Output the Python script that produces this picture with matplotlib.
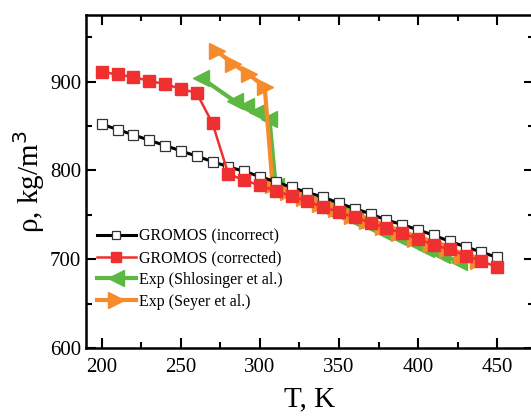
import matplotlib.pyplot as plt
from matplotlib.ticker import MultipleLocator

# GROMOS (incorrect)
t_incorrect = [200, 210, 220, 230, 240, 250, 260, 270, 280, 290, 300, 310, 320,
               330, 340, 350, 360, 370, 380, 390, 400, 410, 420, 430, 440, 450]
rho_incorrect = [852, 846, 840, 834, 828, 822, 816, 810, 804, 799, 793, 787, 781,
                 775, 770, 763, 757, 751, 744, 739, 733, 727, 720, 714, 708, 702]

# GROMOS (corrected)
t_corrected = t_incorrect
rho_corrected = [911, 908, 905, 901, 897, 892, 887, 853, 796, 789, 783, 777, 771,
                 765, 759, 753, 747, 741, 735, 729, 723, 716, 711, 704, 698, 691]

# Exp (Shlosinger et al.)
t_shlos = [263, 284, 291, 298, 306, 310, 318, 326, 334, 342, 351, 360, 369,
           378, 387, 396, 405, 415, 426]
rho_shlos = [904, 878, 872, 866, 858, 782, 776, 770, 764, 757, 751, 744, 738,
             731, 725, 719, 712, 705, 697]

# Exp (Seyer et al.)
t_seyer = [273, 283, 293, 303, 308, 318, 328, 338, 348, 358, 368, 378, 388,
           398, 408, 418, 428, 438]
rho_seyer = [934, 920, 908, 894, 783, 776, 769, 762, 756, 749, 743, 736, 730,
             723, 717, 711, 704, 698]

plt.rcParams['font.family'] = ['Liberation Serif', 'DejaVu Serif']

fig = plt.figure(figsize=(5.31, 4.17), dpi=100)
# right spine sits just past the image edge, as in the original
ax = fig.add_axes([86 / 531, 1 - 348 / 417, 448 / 531, 333 / 417])

ax.plot(t_incorrect, rho_incorrect, color='black', lw=2.2, marker='s', ms=7,
        mfc='white', mec='#333333', mew=0.9, label='GROMOS (incorrect)', zorder=4)
ax.plot(t_corrected, rho_corrected, color='#ee3030', lw=1.8, marker='s', ms=8,
        mfc='#ee3030', mec='#ee3030', label='GROMOS (corrected)', zorder=5)
ax.plot(t_shlos, rho_shlos, color='#5cb840', lw=3, marker='<', ms=11,
        label='Exp (Shlosinger et al.)', zorder=2)
ax.plot(t_seyer, rho_seyer, color='#f58b2a', lw=3, marker='>', ms=11,
        label='Exp (Seyer et al.)', zorder=3)

ax.set_xlim(190, 473.3)
ax.set_ylim(600, 975)
ax.xaxis.set_major_locator(MultipleLocator(50))
ax.xaxis.set_minor_locator(MultipleLocator(25))
ax.yaxis.set_major_locator(MultipleLocator(100))
ax.yaxis.set_minor_locator(MultipleLocator(50))
ax.tick_params(which='both', direction='in', top=True, right=True, width=1.5,
               labelsize=15)
ax.tick_params(which='major', length=7)
ax.tick_params(which='minor', length=4)
ax.tick_params(axis='x', pad=7)
for s in ax.spines.values():
    s.set_linewidth(1.8)

ax.set_xlabel('T, K', fontsize=21, labelpad=7)
ax.set_ylabel('ρ, kg/m$^3$', fontsize=21, labelpad=2)

leg = ax.legend(loc='lower left', bbox_to_anchor=(0.0, 0.082), frameon=False,
                fontsize=11.5, handlelength=2.4, handletextpad=0.2,
                labelspacing=0.35, borderaxespad=0.3)
for h, ms in zip(leg.legend_handles, [6, 7, 11, 11]):
    h.set_markersize(ms)

fig.savefig('out.png', dpi=100)
